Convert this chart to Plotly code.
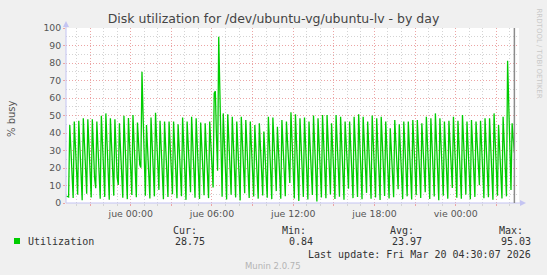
import plotly.graph_objects as go
import pandas as pd

# ---------------- data ----------------
start_time = "2026-03-18 19:15"          # first 5-minute sample
sample_freq = "5min"

# % busy, one 5-minute sample each (cycle of ~20 min: peak, descent, low)
busy_pct = [
    4.0, 3.6, 3.4,
    44.6, 30.1, 15.8, 2.9,
    46.5, 31.2, 16.4, 4.8,
    47.0, 31.0, 14.9, 1.6,
    48.4, 32.5, 16.7, 5.3,
    47.8, 31.4, 15.2, 3.1,
    47.8, 30.6, 14.1, 8.4,
    46.5, 31.9, 17.3, 2.4,
    49.8, 33.0, 16.2, 3.5,
    51.2, 33.8, 16.9, 1.9,
    48.4, 31.7, 15.0, 4.2,
    47.8, 30.9, 14.6, 10.3,
    45.5, 30.4, 15.7, 3.0,
    49.8, 32.9, 16.1, 2.2,
    48.6, 32.0, 15.3, 4.6,
    50.3, 33.1, 16.8, 3.3,
    46.0, 33.5, 22.0, 20.2,
    75.0, 49.6, 24.7, 4.1,
    44.6, 29.8, 15.2, 2.6,
    48.8, 32.4, 15.9, 3.8,
    51.6, 34.1, 16.5, 7.5,
    47.0, 31.3, 15.6, 2.1,
    46.5, 30.7, 14.8, 3.4,
    46.5, 31.1, 15.9, 5.0,
    46.5, 30.2, 14.4, 2.7,
    45.0, 29.9, 15.1, 3.9,
    48.8, 32.2, 16.0, 1.8,
    46.5, 30.8, 15.4, 6.2,
    49.3, 32.6, 15.8, 3.0,
    48.4, 31.9, 15.5, 2.3,
    46.0, 30.5, 15.2, 4.4,
    45.5, 30.1, 14.7, 2.8,
    46.5, 33.0, 20.5, 8.9,
    62.8, 63.9, 38.0, 18.5,
    95.03, 58.0, 24.0, 3.6,
    51.2, 33.9, 16.7, 2.0,
    50.7, 33.4, 16.3, 4.7,
    49.3, 32.5, 15.8, 3.2,
    46.5, 30.9, 15.2, 1.5,
    49.3, 32.7, 16.1, 5.6,
    47.4, 31.3, 15.4, 2.9,
    46.5, 30.6, 14.9, 3.7,
    44.6, 29.4, 14.3, 2.5,
    45.5, 30.2, 15.0, 4.3,
    40.8, 27.1, 13.5, 3.0,
    49.3, 32.6, 16.0, 2.2,
    48.8, 32.3, 15.7, 6.8,
    43.6, 29.0, 14.6, 2.4,
    47.4, 31.4, 15.5, 3.9,
    46.5, 31.8, 18.2, 11.4,
    51.8, 34.2, 16.6, 2.6,
    50.7, 33.5, 16.2, 1.2,
    48.4, 31.9, 15.4, 3.5,
    48.8, 32.1, 15.8, 2.0,
    46.5, 30.7, 14.9, 4.6,
    50.0, 33.0, 16.1, 0.84,
    48.4, 32.0, 15.7, 3.1,
    50.3, 33.3, 16.4, 2.7,
    50.3, 33.1, 15.9, 4.9,
    45.5, 30.0, 14.6, 2.3,
    50.3, 33.2, 16.2, 3.6,
    49.3, 32.4, 15.6, 1.9,
    46.5, 31.6, 17.4, 8.2,
    46.5, 30.8, 15.1, 2.8,
    49.3, 32.5, 15.9, 3.4,
    50.7, 33.6, 16.5, 2.1,
    49.3, 32.6, 15.8, 5.8,
    46.5, 30.9, 15.3, 2.4,
    50.0, 33.0, 16.0, 3.2,
    48.4, 31.8, 15.5, 1.7,
    49.3, 32.4, 15.9, 4.0,
    46.5, 30.6, 14.8, 2.6,
    42.7, 28.3, 13.9, 3.3,
    47.4, 31.5, 15.6, 7.9,
    45.0, 29.8, 14.5, 2.2,
    46.5, 30.8, 15.2, 3.8,
    46.5, 30.5, 14.7, 2.0,
    47.4, 31.2, 15.3, 4.5,
    47.4, 31.6, 15.9, 2.9,
    45.5, 30.6, 16.8, 6.1,
    49.3, 32.6, 15.9, 2.3,
    48.4, 31.8, 15.3, 3.7,
    51.2, 33.9, 16.6, 1.6,
    48.4, 32.0, 15.6, 4.1,
    46.5, 30.7, 14.9, 2.5,
    47.0, 31.4, 16.5, 8.6,
    49.3, 32.5, 15.8, 3.0,
    47.0, 31.0, 15.0, 2.4,
    50.3, 33.2, 16.1, 4.8,
    46.5, 30.9, 15.4, 2.1,
    47.4, 31.3, 15.2, 3.5,
    46.5, 31.4, 17.6, 10.2,
    47.0, 31.1, 15.3, 2.7,
    48.4, 32.0, 15.6, 3.3,
    48.4, 31.7, 15.2, 1.9,
    51.2, 33.8, 16.4, 4.2,
    44.6, 29.6, 14.5, 2.6,
    49.3, 32.8, 16.7, 3.8,
    81.3, 50.2, 24.5, 7.4,
    45.5, 37.0, 28.75,
]

x_range = ["2026-03-18 19:13:20", "2026-03-20 04:40:30"]
y_range = [0, 100]
tick_times = ["2026-03-18 21:00", "2026-03-19 00:00", "2026-03-19 03:00", "2026-03-19 06:00",
              "2026-03-19 09:00", "2026-03-19 12:00", "2026-03-19 15:00", "2026-03-19 18:00",
              "2026-03-19 21:00", "2026-03-20 00:00", "2026-03-20 03:00"]
tick_labels = ["", "jue 00:00", "", "jue 06:00", "", "jue 12:00", "", "jue 18:00",
               "", "vie 00:00", ""]

series_name = "Utilization"
stat_names = ["Cur:", "Min:", "Avg:", "Max:"]
stat_values = ["28.75", "0.84", "23.97", "95.03"]
title_text = "Disk utilization for /dev/ubuntu-vg/ubuntu-lv - by day"
y_title = "% busy"
last_update = "Last update: Fri Mar 20 04:30:07 2026"
footer = "Munin 2.0.75"
side_text = "RRDTOOL / TOBI OETIKER"

times = pd.date_range(start_time, periods=len(busy_pct), freq=sample_freq)

# ---------------- layout geometry (pixels) ----------------
W, H = 547, 275
L, R, T, B = 66, 519, 28, 203
PW, PH = R - L, B - T


def px(xp):
    return (xp - L) / PW


def py(yp):
    return (B - yp) / PH


GREEN = "#00CC00"
TXT = "#333333"
AXIS = "#c4c4f2"
MAJ = "#eca4a4"
MIN = "#d4d4d4"
MONO = "DejaVu Sans Mono"
SANS = "DejaVu Sans"

fig = go.Figure()
fig.add_trace(go.Scatter(x=times, y=busy_pct, mode="lines",
                         line=dict(color=GREEN, width=1.3),
                         name=series_name, showlegend=False, hoverinfo="skip"))

fig.update_layout(
    width=W, height=H,
    margin=dict(l=L, r=W - R, t=T, b=H - B, pad=0),
    paper_bgcolor="#f0f0f0", plot_bgcolor="#ffffff",
    showlegend=False,
    title=dict(text=title_text, x=0.5, xanchor="center", xref="container",
               y=1 - 19 / H, yanchor="middle", yref="container",
               font=dict(family=SANS, size=12.5, color="#444444")),
    font=dict(family=SANS, color="#555555"),
)

fig.update_xaxes(
    type="date", range=x_range, tickmode="array",
    tickvals=tick_times, ticktext=tick_labels,
    showgrid=True, gridcolor=MAJ, griddash="1px,2px", gridwidth=1,
    ticks="outside", ticklen=2, tickcolor=MAJ,
    tickfont=dict(family=SANS, size=9.4, color="#555555"),
    showline=False, zeroline=False,
    minor=dict(dtick=3600000, showgrid=True, gridcolor=MIN,
               griddash="1px,2px", ticks="outside", ticklen=2, tickcolor=MIN),
)
fig.update_yaxes(
    range=y_range, dtick=10, tick0=0,
    showgrid=True, gridcolor=MAJ, griddash="1px,2px", gridwidth=1,
    ticks="outside", ticklen=2, tickcolor=MAJ,
    tickfont=dict(family=SANS, size=9.3, color="#555555"),
    showline=False, zeroline=False,
    minor=dict(dtick=5, showgrid=True, gridcolor=MIN, griddash="1px,2px"),
)

shapes = []
# axis lines with arrows
shapes.append(dict(type="line", xref="paper", yref="paper", x0=px(L), x1=px(R + 2),
                   y0=0, y1=0, line=dict(color=AXIS, width=1)))
shapes.append(dict(type="line", xref="paper", yref="paper", x0=0, x1=0,
                   y0=0, y1=py(T - 2), line=dict(color=AXIS, width=1)))
shapes.append(dict(type="path", xref="paper", yref="paper",
                   path=f"M {px(R + 1)} {py(B - 3)} L {px(R + 7)} {py(B)} L {px(R + 1)} {py(B + 3)} Z",
                   fillcolor=AXIS, line=dict(color=AXIS, width=0)))
shapes.append(dict(type="path", xref="paper", yref="paper",
                   path=f"M {px(L - 3)} {py(T - 1)} L {px(L)} {py(T - 7)} L {px(L + 3)} {py(T - 1)} Z",
                   fillcolor=AXIS, line=dict(color=AXIS, width=0)))
# end-of-data rule
shapes.append(dict(type="line", xref="x", yref="paper", x0=times[-1], x1=times[-1],
                   y0=0, y1=1, line=dict(color="#8c8c8c", width=1.5)))
# legend swatch
shapes.append(dict(type="rect", xref="paper", yref="paper",
                   x0=px(14), x1=px(20), y0=py(244), y1=py(238),
                   fillcolor=GREEN, line=dict(width=0)))
fig.update_layout(shapes=shapes)

ann = []


def text(s, x, y, anchor="left", size=10, family=MONO, color=TXT, angle=0):
    ann.append(dict(text=s, x=px(x), y=py(y), xref="paper", yref="paper",
                    xanchor=anchor, yanchor="middle", showarrow=False,
                    textangle=angle, font=dict(family=family, size=size, color=color)))


text(y_title, 11, 119, anchor="center", size=10, family=SANS, color="#555555", angle=-90)
text(series_name, 25.5, 241)
stat_label_x = [171, 280, 388, 497]
stat_value_right = [206.5, 315, 424, 533]
for name, lx in zip(stat_names, stat_label_x):
    text(name, lx, 230)
for val, rx in zip(stat_values, stat_value_right):
    text(val, rx, 241, anchor="right")
text(last_update, 533, 254, anchor="right")
text(footer, 272.8, 266, anchor="center", size=8.5, family=SANS, color="#b4b4b4")
text(side_text, 538.5, 53, anchor="center", size=7, family=SANS, color="#c8c8c8", angle=90)
fig.update_layout(annotations=ann)

fig.write_html("out.html")
